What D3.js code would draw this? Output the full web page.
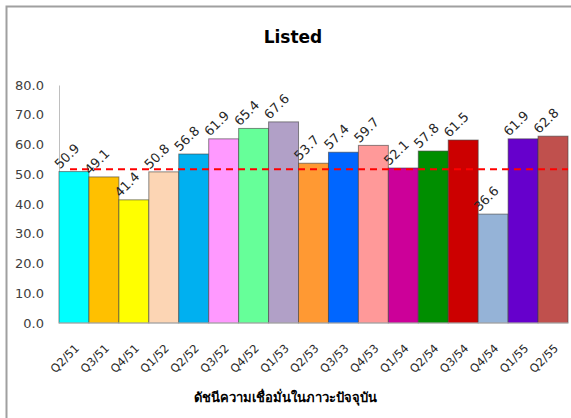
<!DOCTYPE html>
<html><head><meta charset="utf-8">
<script src="https://cdn.jsdelivr.net/npm/d3@7"></script>
<style>body{margin:0;background:#fff}svg{display:block}</style>
</head><body><svg id="c" width="571" height="418"></svg>
<script>
const categories = ["Q2/51","Q3/51","Q4/51","Q1/52","Q2/52","Q3/52","Q4/52","Q1/53","Q2/53","Q3/53","Q4/53","Q1/54","Q2/54","Q3/54","Q4/54","Q1/55","Q2/55"];
const values = [50.9,49.1,41.4,50.8,56.8,61.9,65.4,67.6,53.7,57.4,59.7,52.1,57.8,61.5,36.6,61.9,62.8];
const colors = ["#00FFFF","#FFC000","#FFFF00","#FCD5B4","#00B0F0","#FF99FF","#66FF99","#B1A0C7","#FF9933","#0066FF","#FF9999","#CC0099","#008E00","#CC0000","#95B3D7","#6600CC","#C0504D"];
const yTicks = [0,10,20,30,40,50,60,70,80];
const refValue = 51.7;
const title = "Listed";
const xTitle = "ดัชนีความเชื่อมั่นในภาวะปัจจุบัน";

const svg = d3.select("#c");
const font = "Tahoma, 'DejaVu Sans', sans-serif";
// frame
svg.append("path").attr("d","M6.5,418 V6.5 H571").attr("fill","none").attr("stroke","#a0a0a0").attr("stroke-width",2);

const x = d3.scaleBand().domain(categories).range([59,568]).padding(0);
const y = d3.scaleLinear().domain([0,80]).range([323,85]);

svg.append("text").attr("x",293).attr("y",43).attr("text-anchor","middle")
  .attr("font-family",font).attr("font-weight","bold").attr("font-size",17).text(title);

// y axis
const ya = svg.append("g").attr("transform","translate(59,0)")
  .call(d3.axisLeft(y).tickValues(yTicks).tickSize(0).tickPadding(15).tickFormat(d3.format(".1f")));
ya.select(".domain").attr("stroke","#bfbfbf");
ya.selectAll("text").attr("font-family",font).attr("font-size",13).attr("fill","#404040");

// bars
svg.selectAll("rect.bar").data(values).join("rect").attr("class","bar")
  .attr("x",(d,i)=>x(categories[i])).attr("width",x.bandwidth())
  .attr("y",d=>y(d)).attr("height",d=>y(0)-y(d))
  .attr("fill",(d,i)=>colors[i]).attr("stroke","#404040").attr("stroke-opacity",0.6).attr("stroke-width",1);

// x axis baseline
svg.append("line").attr("x1",59).attr("x2",568).attr("y1",y(0)).attr("y2",y(0)).attr("stroke","#bfbfbf");

// reference line
svg.append("line").attr("x1",70).attr("x2",568).attr("y1",y(refValue)).attr("y2",y(refValue))
  .attr("stroke","#FF0000").attr("stroke-width",2).attr("stroke-dasharray","7,5");

// value labels
svg.selectAll("text.val").data(values).join("text").attr("class","val")
  .attr("transform",(d,i)=>`translate(${x(categories[i])+1},${y(d)-2}) rotate(-45)`)
  .attr("font-family",font).attr("font-size",13).attr("fill","#262626").text(d=>d.toFixed(1));

// x labels
svg.selectAll("text.xl").data(categories).join("text").attr("class","xl")
  .attr("transform",d=>`translate(${x(d)+x.bandwidth()/2+6},${349}) rotate(-45)`)
  .attr("text-anchor","end").attr("font-family",font).attr("font-size",11.5).attr("fill","#262626").text(d=>d);

svg.append("text").attr("x",285).attr("y",402).attr("text-anchor","middle")
  .attr("font-family",font).attr("font-weight","bold").attr("font-size",13).attr("fill","#000").text(xTitle);
</script></body></html>
